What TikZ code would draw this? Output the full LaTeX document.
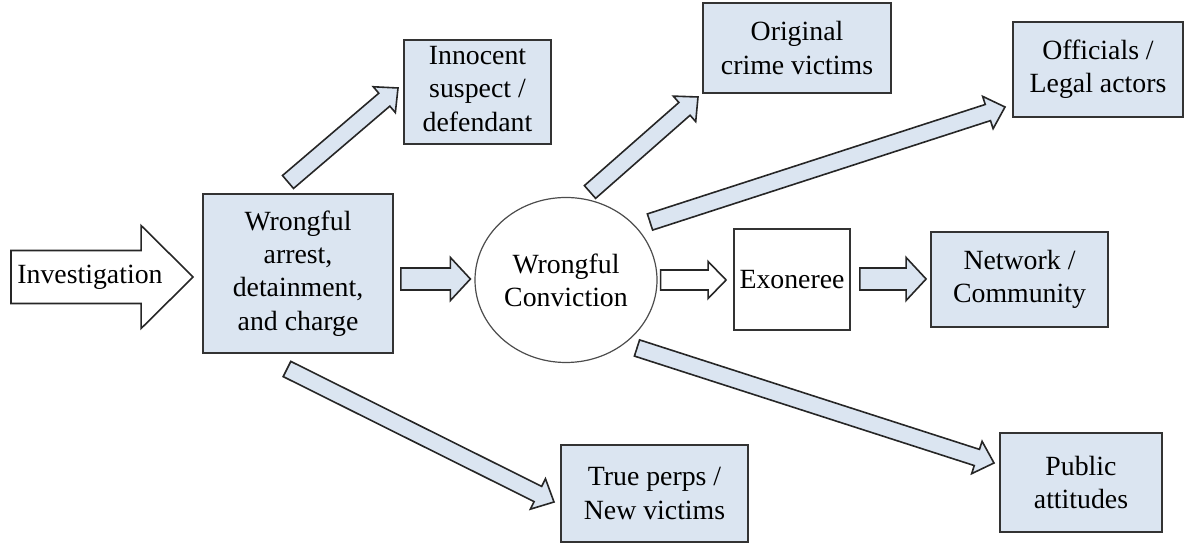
\documentclass[tikz,border=0pt]{standalone}
\usepackage{fontspec}
\setmainfont{Liberation Serif}
\newfontfamily\tnrfont{Liberation Serif}
\usepackage{xcolor}
\usetikzlibrary{shapes.geometric,calc}

\definecolor{boxblue}{HTML}{DBE5F1}

% block arrow: #1 fill, #2 half shaft, #3 half head, #4 head length, #5 from, #6 to
\newcommand{\blockarrow}[6]{%
    \coordinate (bah) at ($(#6)!#4!(#5)$);
    \draw[blockarr, fill=#1]
        ($(#5)!#2!90:(#6)$) -- ($(bah)!#2!90:(#6)$) -- ($(bah)!#3!90:(#6)$)
        -- (#6) -- ($(bah)!#3!-90:(#6)$) -- ($(bah)!#2!-90:(#6)$)
        -- ($(#5)!#2!-90:(#6)$) -- cycle;
}

\begin{document}
\begin{tikzpicture}[x=0.5pt, y=-0.5pt]
    \tikzset{
        txt/.style={font=\tnrfont\fontsize{13.9}{16.6}\selectfont, align=center, inner sep=0pt},
        box/.style={txt, draw=black!80, line width=0.9pt, fill=boxblue, rectangle},
        plain/.style={txt, draw=black!80, line width=0.9pt, fill=white, rectangle},
        circ/.style={txt, draw=black!70, line width=0.6pt, ellipse, fill=white},
        blockarr/.style={draw=black!85, line width=0.8pt, line join=miter}
    }
    \useasboundingbox (0,0) rectangle (1190,544);

    % boxes
    \node [box, minimum width=95pt, minimum height=79.5pt] (wrong) at (298,273.5) {Wrongful\\arrest,\\detainment,\\and charge};
    \node [box, minimum width=73.5pt, minimum height=52pt] (innocent) at (477.5,92) {Innocent\\suspect /\\defendant\vspace{3pt}};
    \node [box, minimum width=94pt, minimum height=45pt] (original) at (797,48) {Original\\crime victims};
    \node [box, minimum width=85pt, minimum height=47.5pt] (officials) at (1098,69.5) {Officials /\\Legal actors};
    \node [circ, minimum width=91pt, minimum height=82.5pt] (convict) at (566,280) {Wrongful\\Conviction};
    \node [plain, minimum width=58pt, minimum height=50.5pt] (exoneree) at (792,279.5) {Exoneree};
    \node [box, minimum width=88.5pt, minimum height=47.5pt] (network) at (1019.5,279.5) {Network /\\Community};
    \node [box, minimum width=93.5pt, minimum height=48.5pt] (trueperps) at (654.5,493.5) {True perps /\\New victims};
    \node [box, minimum width=81pt, minimum height=49.5pt] (public) at (1081,482.5) {Public\\attitudes};

    % arrow ends
    \coordinate (inv-s) at (11,277);
    \coordinate (inv-t) at ($(wrong.west)+(-9,3.5)$);
    \coordinate (w2c-s) at ($(wrong.east)+(7,5.5)$);
    \coordinate (w2c-t) at ($(convict.west)+(-4,-1)$);
    \coordinate (c2e-s) at ($(convict.east)+(3,0)$);
    \coordinate (c2e-t) at ($(exoneree.west)+(-7,0.5)$);
    \coordinate (e2n-s) at ($(exoneree.east)+(9,-0.5)$);
    \coordinate (e2n-t) at ($(network.west)+(-4,-0.5)$);
    \coordinate (w2i-s) at (288,182);
    \coordinate (w2i-t) at (398,88);
    \coordinate (w2t-s) at (287,369);
    \coordinate (w2t-t) at (554,502);
    \coordinate (c2o-s) at (590,192);
    \coordinate (c2o-t) at (698,97);
    \coordinate (c2f-s) at (650,222);
    \coordinate (c2f-t) at (1005,107);
    \coordinate (c2p-s) at (637,348);
    \coordinate (c2p-t) at (994,463);

    % arrows
    \blockarrow{white}{13.25pt}{25.75pt}{26pt}{inv-s}{inv-t}
    \node [txt] (inv) at (90,277) {Investigation};
    \blockarrow{boxblue}{5.5pt}{10.75pt}{10pt}{w2c-s}{w2c-t}
    \blockarrow{white}{5pt}{9.25pt}{9pt}{c2e-s}{c2e-t}
    \blockarrow{boxblue}{5.5pt}{10.75pt}{10pt}{e2n-s}{e2n-t}
    \blockarrow{boxblue}{4.25pt}{8.5pt}{9pt}{w2i-s}{w2i-t}
    \blockarrow{boxblue}{4.25pt}{8.5pt}{9pt}{w2t-s}{w2t-t}
    \blockarrow{boxblue}{4.25pt}{8.5pt}{9pt}{c2o-s}{c2o-t}
    \blockarrow{boxblue}{4.25pt}{8.5pt}{9pt}{c2f-s}{c2f-t}
    \blockarrow{boxblue}{4.25pt}{8.5pt}{9pt}{c2p-s}{c2p-t}
\end{tikzpicture}
\end{document}
